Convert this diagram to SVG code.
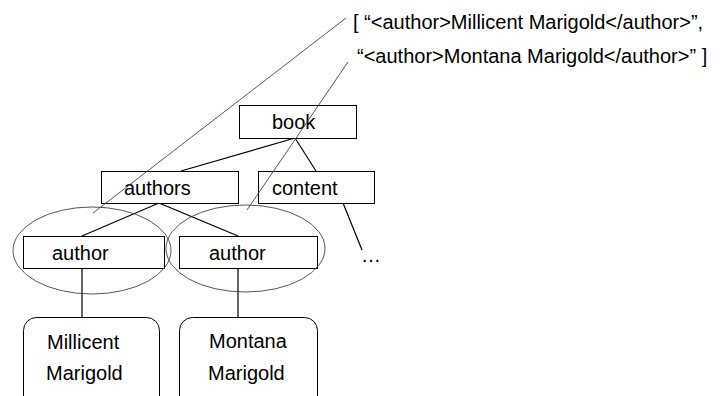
<svg xmlns="http://www.w3.org/2000/svg" width="724" height="396" viewBox="0 0 724 396">
<style>
.box{fill:#fff;stroke:#000;stroke-width:1}
.leaf{fill:#fff;stroke:#000;stroke-width:1}
.t{font-family:"Liberation Sans",Arial,sans-serif;font-size:20px;fill:#000}
.edge{stroke:#000;stroke-width:1.2;fill:none}
.thin{stroke:#444;stroke-width:0.9;fill:none}
</style>
<rect width="724" height="396" fill="#fff"/>
<g id="connectors">
<line class="edge" x1="295" y1="138" x2="181" y2="171"/>
<line class="edge" x1="295" y1="138" x2="316" y2="171"/>
<line class="edge" x1="159" y1="203" x2="82" y2="236"/>
<line class="edge" x1="159" y1="203" x2="238" y2="236"/>
<line class="edge" x1="343" y1="203" x2="362" y2="250"/>
<line class="edge" x1="82" y1="268" x2="82" y2="317"/>
<line class="edge" x1="238" y1="268" x2="238" y2="317"/>
</g>
<g id="node-book"><rect class="box" x="239.5" y="105.5" width="117" height="33"/><text class="t" x="272" y="129">book</text></g>
<g id="node-authors"><rect class="box" x="101.5" y="171.5" width="137" height="32"/><text class="t" x="124" y="195">authors</text></g>
<g id="node-content"><rect class="box" x="258.5" y="171.5" width="116" height="32"/><text class="t" x="272" y="195">content</text></g>
<g id="node-author1"><rect class="box" x="23.5" y="236.5" width="141" height="32"/><text class="t" x="52" y="260">author</text></g>
<g id="node-author2"><rect class="box" x="179.5" y="236.5" width="138" height="32"/><text class="t" x="209" y="260">author</text></g>
<g id="ellipses">
<ellipse class="thin" cx="92" cy="250.5" rx="79" ry="43.5"/>
<ellipse class="thin" cx="245.5" cy="248.5" rx="79.5" ry="43.5"/>
</g>
<g id="pointers">
<line class="thin" x1="346" y1="18" x2="93" y2="213"/>
<line class="thin" x1="348" y1="62" x2="247" y2="210"/>
</g>
<g id="node-ellipsis"><text class="t" x="361" y="262">…</text></g>
<g id="node-leaf1"><rect class="leaf" x="23.5" y="317.5" width="136" height="100" rx="13"/><text class="t" x="47" y="349">Millicent</text><text class="t" x="46" y="380">Marigold</text></g>
<g id="node-leaf2"><rect class="leaf" x="179.5" y="317.5" width="138" height="100" rx="13"/><text class="t" x="209" y="348">Montana</text><text class="t" x="208" y="380">Marigold</text></g>
<g id="node-result">
<text class="t" x="353" y="29">[ “&lt;author&gt;Millicent Marigold&lt;/author&gt;”,</text>
<text class="t" x="357" y="63">“&lt;author&gt;Montana Marigold&lt;/author&gt;” ]</text>
</g>
</svg>
